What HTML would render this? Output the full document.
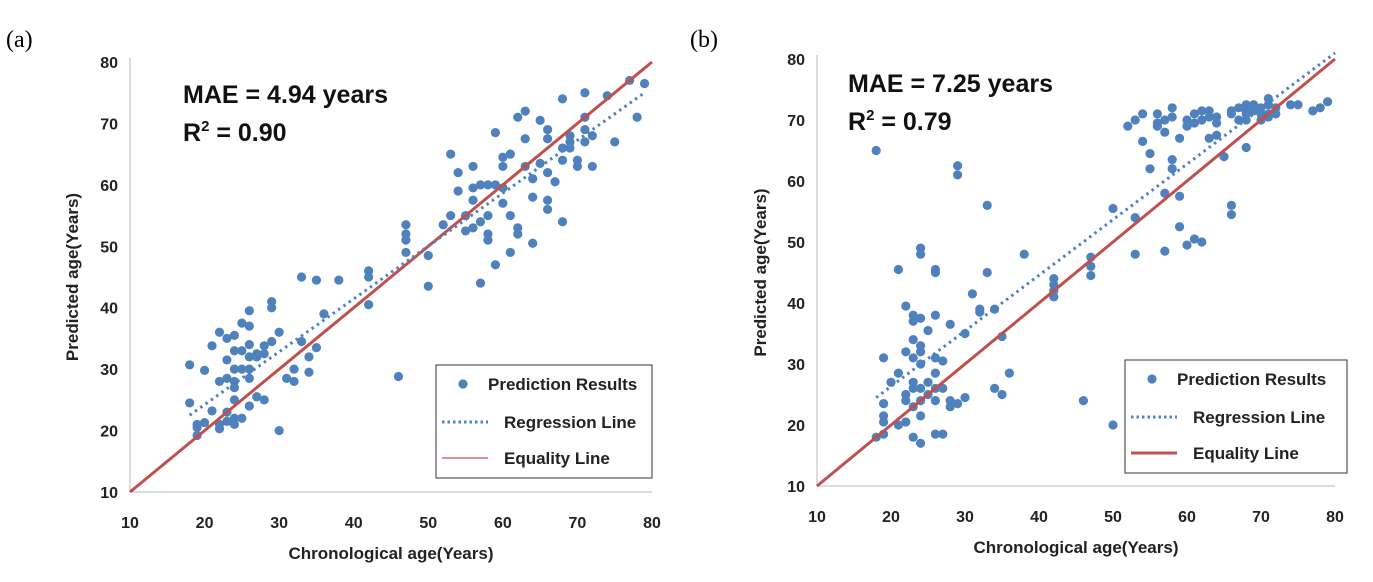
<!DOCTYPE html>
<html><head><meta charset="utf-8">
<style>
body{margin:0;background:#fff;}
svg text{font-family:"Liberation Sans",Arial,sans-serif;}
</style></head>
<body>
<svg id="chart" width="1373" height="577" viewBox="0 0 1373 577" xmlns="http://www.w3.org/2000/svg">
<text x="6" y="47" style="font-family:'Liberation Serif',serif" font-size="24">(a)</text>
<text x="690" y="47" style="font-family:'Liberation Serif',serif" font-size="24">(b)</text>
</svg>
<script>
const ticks = [10,20,30,40,50,60,70,80];
const aX = [18,18,19,19,19,20,20,21,21,22,22,22,22,23,23,23,23,23,24,24,24,24,24,24,24,24,25,25,25,25,26,26,26,26,26,26,26,27,27,27,28,28,28,29,29,29,30,30,31,32,32,33,33,34,34,35,35,36,38,42,42,42,46,47,47,47,47,50,50,52,53,53,54,54,55,55,56,56,56,56,57,57,57,58,58,58,58,59,59,59,60,60,60,60,61,61,61,62,62,62,63,63,63,64,64,64,65,65,66,66,66,66,66,67,68,68,68,68,69,69,69,70,70,71,71,71,71,72,72,74,75,77,78,79];
const aY = [30.7,24.5,21,19.2,20.5,21.3,29.8,23.2,33.8,36,28,21,20.3,35,31.5,28.5,23,21.5,35.5,33,30,28,27,25,22,21,37.5,33,30,22,39.5,37,34,32,30,28.5,24,32.5,32,25.5,33.8,32.5,25,41,40,34.5,36,20,28.5,28,30,45,34.5,32,29.5,44.5,33.5,39,44.5,46,45,40.5,28.8,53.5,52,51,49,48.5,43.5,53.5,65,55,62,59,52.5,55,63,59.5,57.5,53,60,54,44,60,55,52,51,68.5,60,47,64.5,63,59.5,57,65,55,49,71,53,52,72,67.5,63,61,58,50.5,70.5,63.5,69,67.5,62,57.5,56,60.5,74,66,64,54,68,67,66,64,63,75,71,67,69,68,63,74.5,67,77,71,76.5];
const aReg = [18,22.5,79,75];
const bX = [18,18,19,19,19,19,19,20,21,21,21,22,22,22,22,22,23,23,23,23,23,23,23,23,24,24,24,24,24,24,24,24,24,24,25,25,25,26,26,26,26,26,26,26,26,27,27,27,28,28,28,29,29,29,30,30,31,32,32,33,33,34,34,35,35,36,38,42,42,42,42,46,47,47,47,50,50,52,53,53,53,54,54,55,55,56,56,56,57,57,57,57,58,58,58,58,59,59,59,60,60,60,61,61,61,62,62,62,63,63,63,64,64,64,65,66,66,66,66,67,67,68,68,68,68,68,69,69,69,70,70,70,71,71,71,71,72,72,74,75,77,78,79];
const bY = [65,18,31,23.5,21.5,20.5,18.5,27,45.5,28.5,20,39.5,32,25,20.5,24,38,37,34,31,27,26,23,18,49,48,37.5,33,32,30,26,24,21.5,17,35.5,27,25,45.5,45,38,31,28.5,26,24,18.5,30.5,26,18.5,36.5,24,23,62.5,61,23.5,35,24.5,41.5,39,38.5,56,45,39,26,34.5,25,28.5,48,44,43,42,41,24,47.5,46,44.5,55.5,20,69,54,48,70,71,66.5,64.5,62,71,69,69.5,70,48.5,58,68,72,63.5,62,70.5,67,57.5,52.5,70,69,49.5,71,69.5,50.5,71.5,70,50,71.5,70.5,67,70.5,69.5,67.5,64,56,54.5,71.5,71,72,70,72.5,71.5,71,70,65.5,72.5,72,71.5,72,71,70,73.5,72.5,71,70.5,72,71,72.5,72.5,71.5,72,73];
const bReg = [18,24.5,80,81];

const NS="http://www.w3.org/2000/svg";
const svg=document.getElementById('chart');
function mk(tag,attrs,parent){const e=document.createElementNS(NS,tag);for(const k in attrs)e.setAttribute(k,attrs[k]);(parent||svg).appendChild(e);return e;}

function panel(cfg){
  const sx=v=>cfg.x0+(v-10)*(cfg.x1-cfg.x0)/70;
  const sy=v=>cfg.y0-(v-10)*(cfg.y0-cfg.y1)/70;
  const g=mk('g',{});
  
  
  const ya=mk('line',{x1:cfg.x0,y1:sy(80)-4,x2:cfg.x0,y2:cfg.y0,stroke:'#d0d0d0','stroke-width':1.5},g);
  
  
  const xa=mk('line',{x1:cfg.x0,y1:cfg.y0,x2:cfg.x1,y2:cfg.y0,stroke:'#d0d0d0','stroke-width':1.5},g);
  
  
  ticks.forEach(t=>{
    const yl=mk('text',{x:cfg.x0-12,y:sy(t)+6,'text-anchor':'end','font-size':16,'font-weight':'bold',fill:'#222'},g);
    yl.textContent=t;
    
    
    const xl=mk('text',{x:sx(t),y:cfg.y0+36,'text-anchor':'middle','font-size':16,'font-weight':'bold',fill:'#222'},g);
    xl.textContent=t;
    
    
  });
  const xt=mk('text',{x:(cfg.x0+cfg.x1)/2,y:cfg.y0+67,'text-anchor':'middle','font-size':17,'font-weight':'bold',fill:'#222'},g);
  xt.textContent='Chronological age(Years)';
  
  
  const yc=(cfg.y0+sy(80))/2;
  const yt=mk('text',{x:cfg.ytx,y:yc,'text-anchor':'middle','font-size':17,'font-weight':'bold',fill:'#222',transform:`rotate(-90 ${cfg.ytx} ${yc})`},g);
  yt.textContent='Predicted age(Years)';
  
  
  cfg.xs.forEach((v,i)=>{
    const c=mk('circle',{cx:sx(v),cy:sy(cfg.ys[i]),r:4.6,fill:'#4f81bd'},g);
    
    
  });
  const eq=mk('line',{x1:sx(10),y1:sy(10),x2:sx(80),y2:sy(80),stroke:'#c0504d','stroke-width':3},g);
  
  
  const r=cfg.reg;
  const rl=mk('line',{x1:sx(r[0]),y1:sy(r[1]),x2:sx(r[2]),y2:sy(r[3]),stroke:'#4f81bd','stroke-width':3,'stroke-dasharray':'2.5 4'},g);
  
  
  const m=mk('text',{x:cfg.tx,y:cfg.ty,'font-size':25,'font-weight':'bold',fill:'#111'},g);
  m.textContent=cfg.mae;
  
  
  const r2=mk('text',{x:cfg.tx,y:cfg.ty+38,'font-size':25,'font-weight':'bold',fill:'#111'},g);
  r2.innerHTML='R<tspan font-size="15" dy="-10">2</tspan><tspan dy="10"> = '+cfg.r2+'</tspan>';
  
  
  const L=cfg.leg;
  const lg=mk('g',{},g);
  
  
  mk('rect',{x:L[0],y:L[1],width:L[2],height:L[3],fill:'#fff',stroke:'#333','stroke-width':1},lg);
  mk('circle',{cx:L[0]+27,cy:L[1]+19,r:4.6,fill:'#4f81bd'},lg);
  const t1=mk('text',{x:L[0]+52,y:L[1]+25,'font-size':17,'font-weight':'bold',fill:'#222'},lg);t1.textContent='Prediction Results';
  mk('line',{x1:L[0]+6,y1:L[1]+57,x2:L[0]+52,y2:L[1]+57,stroke:'#4f81bd','stroke-width':3,'stroke-dasharray':'2.5 3'},lg);
  const t2=mk('text',{x:L[0]+68,y:L[1]+63,'font-size':17,'font-weight':'bold',fill:'#222'},lg);t2.textContent='Regression Line';
  mk('line',{x1:L[0]+6,y1:L[1]+93,x2:L[0]+52,y2:L[1]+93,stroke:'#c0504d','stroke-width':cfg.lw},lg);
  const t3=mk('text',{x:L[0]+68,y:L[1]+99,'font-size':17,'font-weight':'bold',fill:'#222'},lg);t3.textContent='Equality Line';
}
panel({id:'panel-a',x0:130,x1:652,y0:492,y1:62,xs:aX,ys:aY,reg:aReg,tx:183,ty:103,mae:'MAE = 4.94 years',r2:'0.90',leg:[436,365,216,113],lw:1.2,ytx:78});
panel({id:'panel-b',x0:817,x1:1335,y0:486,y1:59,xs:bX,ys:bY,reg:bReg,tx:848,ty:92,mae:'MAE = 7.25 years',r2:'0.79',leg:[1125,360,222,113],lw:3,ytx:766});
</script>
</body></html>
